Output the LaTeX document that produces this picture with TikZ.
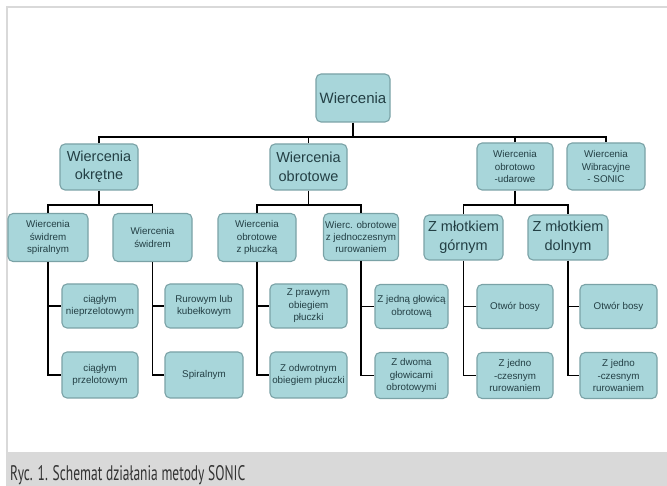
\documentclass[tikz,border=0pt]{standalone}
\usepackage{fontspec}
\setmainfont{Liberation Sans}
\newfontfamily\captionfont{PT Sans}
\usetikzlibrary{calc}
\definecolor{boxfill}{HTML}{A8D6DA}
\definecolor{boxline}{HTML}{7AA2A6}
\definecolor{boxtext}{HTML}{233F44}
\definecolor{framegray}{HTML}{D9D9D9}
\definecolor{captext}{HTML}{333333}
\tikzset{
  box/.style={draw=boxline, line width=1.1pt, fill=boxfill, rounded corners=5pt,
    align=center, inner sep=1pt, text=boxtext},
  big/.style={box, font=\fontsize{14.5}{18.5}\selectfont},
  small/.style={box, font=\fontsize{9.8}{12.4}\selectfont},
  conn/.style={draw=black, line width=1.8pt},
}
\begin{document}
\begin{tikzpicture}[x=1pt,y=-1pt]
\useasboundingbox (0,0) rectangle (667,486);
% frame
\fill[white] (0,0) rectangle (667,486);
\fill[framegray] (6,452) rectangle (667,486);
\draw[framegray, line width=2pt] (7,486) -- (7,7) -- (667,7);
\node[anchor=base west, inner sep=0pt, text=captext] (cap) at (10,480)
  {\resizebox{235pt}{15pt}{\captionfont Ryc. 1. Schemat działania metody SONIC}};
% root
\node[big, minimum width=74pt, minimum height=48pt, font=\fontsize{15}{18}\selectfont] (root) at (353,98) {Wiercenia};
% level 1
\node[big, minimum width=78pt, minimum height=46pt] (okr) at (99,167) {Wiercenia\\okrętne};
\node[big, minimum width=77pt, minimum height=46pt] (obr) at (308.5,167) {Wiercenia\\obrotowe};
\node[small, minimum width=76pt, minimum height=47pt] (uda) at (515,166.5) {Wiercenia\\obrotowo\\-udarowe};
\node[small, minimum width=78pt, minimum height=47pt] (son) at (606,166.5) {Wiercenia\\Wibracyjne\\- SONIC};
% level 2
\node[small, minimum width=80pt, minimum height=48pt] (spi) at (48,237.5) {Wiercenia\\świdrem\\spiralnym};
\node[small, minimum width=79pt, minimum height=48pt] (swi) at (152.5,237.5) {Wiercenia\\świdrem};
\node[small, minimum width=78pt, minimum height=48pt] (plu) at (257,237.5) {Wiercenia\\obrotowe\\z płuczką};
\node[small, minimum width=75pt, minimum height=47pt] (jed) at (361,237) {Wierc. obrotowe\\z jednoczesnym\\rurowaniem};
\node[big, minimum width=79pt, minimum height=45pt] (gor) at (463.5,237.5) {Z młotkiem\\górnym};
\node[big, minimum width=80pt, minimum height=45pt] (dol) at (568,237.5) {Z młotkiem\\dolnym};
% level 3
\node[small, minimum width=76pt, minimum height=44pt] (c1) at (100,306) {ciągłym\\nieprzelotowym};
\node[small, minimum width=76pt, minimum height=46pt] (c2) at (100,375) {ciągłym\\przelotowym};
\node[small, minimum width=78pt, minimum height=44pt] (r1) at (204,306) {Rurowym lub\\kubełkowym};
\node[small, minimum width=78pt, minimum height=46pt] (r2) at (204,375) {Spiralnym};
\node[small, minimum width=77pt, minimum height=44pt] (p1) at (308.5,306) {Z prawym\\obiegiem\\płuczki};
\node[small, minimum width=77pt, minimum height=46pt] (p2) at (308.5,375) {Z odwrotnym\\obiegiem płuczki};
\node[small, minimum width=73pt, minimum height=44pt] (j1) at (411.5,306.5) {Z jedną głowicą\\obrotową};
\node[small, minimum width=73pt, minimum height=46pt] (j2) at (411.5,375.5) {Z dwoma\\głowicami\\obrotowymi};
\node[small, minimum width=76pt, minimum height=44pt] (g1) at (515,306.5) {Otwór bosy};
\node[small, minimum width=76pt, minimum height=46pt] (g2) at (515,375.5) {Z jedno\\-czesnym\\rurowaniem};
\node[small, minimum width=77pt, minimum height=44pt] (d1) at (618.5,306.5) {Otwór bosy};
\node[small, minimum width=77pt, minimum height=46pt] (d2) at (618.5,375.5) {Z jedno\\-czesnym\\rurowaniem};
% connectors
\coordinate (bar1) at (353,137);
\coordinate (bar2) at (0,205);
\draw[conn] (root.south) -- (bar1);
\draw[conn] (okr.north) |- (son.north |- bar1) -- (son.north);
\draw[conn] (obr.north) -- (obr.north |- bar1);
\draw[conn] (uda.north) -- (uda.north |- bar1);
\draw[conn] (okr.south) -- (okr.south |- bar2);
\draw[conn] (spi.north) |- (swi.north |- bar2) -- (swi.north);
\draw[conn] (obr.south) -- (obr.south |- bar2);
\draw[conn] (plu.north) |- (jed.north |- bar2) -- (jed.north);
\draw[conn] (uda.south) -- (uda.south |- bar2);
\draw[conn] (gor.north) |- (dol.north |- bar2) -- (dol.north);
\foreach \p/\a/\b in {spi/c1/c2, swi/r1/r2, plu/p1/p2, jed/j1/j2, gor/g1/g2, dol/d1/d2}{
  \draw[conn] (\p.south) |- (\b.west);
  \draw[conn] (\p.south |- \a.west) -- (\a.west);
}
\end{tikzpicture}
\end{document}
